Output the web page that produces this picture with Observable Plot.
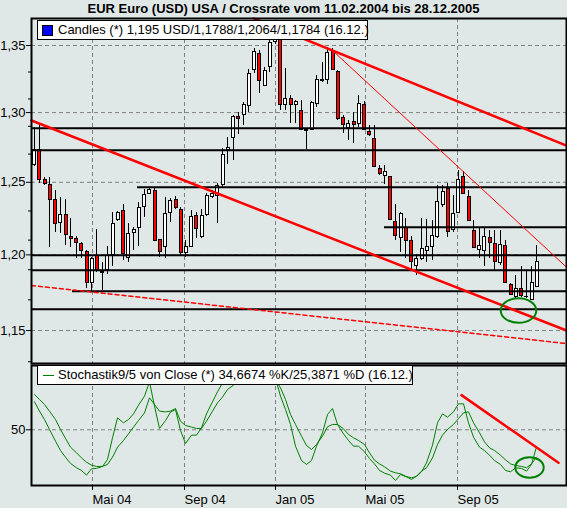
<!DOCTYPE html>
<html>
<head>
<meta charset="utf-8">
<script src="https://cdn.jsdelivr.net/npm/d3@7"></script>
<script src="https://cdn.jsdelivr.net/npm/@observablehq/plot@0.6"></script>
<style>
  html, body { margin: 0; padding: 0; background: #e0e8e7; }
  #chart { position: relative; width: 567px; height: 508px; overflow: hidden; background: #e0e8e7;
    font-family: "Liberation Sans", Arial, Helvetica, sans-serif; color: #000; }
  #title { position: absolute; left: 0; top: 1px; width: 567px; text-align: center; font-weight: bold;
    font-size: 13px; line-height: 15px; white-space: nowrap; }
  #main, #lower { position: absolute; left: 0; }
  #main { top: 0; }
  #lower { top: 364px; }
  .legend { position: absolute; box-sizing: border-box; background: #fff; border: 1px solid #000;
    font-size: 13px; line-height: 18px; white-space: nowrap; padding-left: 20px; }
  #legMain { left: 37px; top: 20px; width: 331px; height: 20px; }
  #legLow { left: 37px; top: 365px; width: 376px; height: 20px; }
  .swatch { position: absolute; left: 4px; top: 4px; width: 11px; height: 11px; box-sizing: border-box;
    background: #0000ff; border: 1px solid #000; }
  .lineSym { position: absolute; left: 5px; top: 9px; width: 11px; height: 1px; background: #008000; }
</style>
</head>
<body>
<div id="chart">
  <div id="main"></div>
  <div id="lower"></div>
  <div id="title"></div>
  <div id="legMain" class="legend"><span class="swatch"></span><span id="legMainText"></span></div>
  <div id="legLow" class="legend"><span class="lineSym"></span><span id="legLowText"></span></div>
</div>
<script>
// ---------- data ----------
const titleText = "EUR Euro (USD) USA / Crossrate vom 11.02.2004 bis 28.12.2005";
const firstWeek = "2004-02-13"; // weekly candles (Fridays)

const open = [1.2623, 1.2726, 1.2513, 1.2484, 1.2373, 1.2218, 1.2269, 1.2124, 1.2108, 1.2074,
 1.2018, 1.1811, 1.1992, 1.1881, 1.1899, 1.1998, 1.2239, 1.2303, 1.1982, 1.2151,
 1.2184, 1.2326, 1.2419, 1.2442, 1.2102, 1.2050, 1.2287, 1.2377, 1.2308, 1.2014,
 1.2056, 1.2264, 1.2119, 1.2269, 1.2395, 1.2407, 1.2482, 1.2726, 1.2817, 1.2966,
 1.2979, 1.3045, 1.3312, 1.3437, 1.3194, 1.3336, 1.3530, 1.3549, 1.3057, 1.3101,
 1.3059, 1.3015, 1.2865, 1.2874, 1.3064, 1.3230, 1.3239, 1.3462, 1.3303, 1.2962,
 1.2889, 1.2928, 1.2918, 1.3059, 1.2862, 1.2809, 1.2595, 1.2543, 1.2536, 1.2222,
 1.2114, 1.2184, 1.2092, 1.1928, 1.1973, 1.2023, 1.2052, 1.2124, 1.2342, 1.2454,
 1.2170, 1.2284, 1.2536, 1.2398, 1.2159, 1.2034, 1.2025, 1.2115, 1.2074, 1.1946,
 1.2063, 1.1801, 1.1717, 1.1773, 1.1717, 1.1699, 1.1788];
const high = [1.2891, 1.2917, 1.2536, 1.2532, 1.2442, 1.2396, 1.2380, 1.2248, 1.2124, 1.2085,
 1.2029, 1.1985, 1.2171, 1.1948, 1.2060, 1.2291, 1.2298, 1.2343, 1.2214, 1.2188,
 1.2361, 1.2449, 1.2454, 1.2454, 1.2104, 1.2393, 1.2384, 1.2400, 1.2324, 1.2097,
 1.2303, 1.2291, 1.2310, 1.2419, 1.2442, 1.2489, 1.2738, 1.2822, 1.2979, 1.3000,
 1.3071, 1.3319, 1.3477, 1.3462, 1.3336, 1.3546, 1.3667, 1.3561, 1.3324, 1.3126,
 1.3089, 1.3089, 1.2877, 1.3081, 1.3274, 1.3373, 1.3485, 1.3477, 1.3312, 1.2979,
 1.2942, 1.3003, 1.3126, 1.3083, 1.2906, 1.2906, 1.2619, 1.2619, 1.2541, 1.2348,
 1.2289, 1.2248, 1.2124, 1.2002, 1.2246, 1.2241, 1.2234, 1.2477, 1.2477, 1.2489,
 1.2407, 1.2583, 1.2578, 1.2442, 1.2234, 1.2188, 1.2188, 1.2165, 1.2165, 1.2165,
 1.2097, 1.1808, 1.1861, 1.1921, 1.1895, 1.1921, 1.2064];
const low = [1.2611, 1.2489, 1.2477, 1.2052, 1.2154, 1.2145, 1.2063, 1.2050, 1.1975, 1.1975,
 1.1775, 1.1755, 1.1881, 1.1761, 1.1868, 1.1923, 1.2227, 1.1962, 1.1950, 1.2029,
 1.2056, 1.2257, 1.2414, 1.2090, 1.1982, 1.1975, 1.2222, 1.2310, 1.1995, 1.1980,
 1.2047, 1.2113, 1.2108, 1.2262, 1.2386, 1.2216, 1.2456, 1.2623, 1.2654, 1.2841,
 1.2906, 1.3003, 1.3286, 1.3138, 1.3192, 1.3299, 1.3508, 1.3015, 1.3015, 1.2918,
 1.2920, 1.2870, 1.2731, 1.2870, 1.3037, 1.3222, 1.3207, 1.3312, 1.2942, 1.2846,
 1.2797, 1.2774, 1.2893, 1.2870, 1.2826, 1.2602, 1.2548, 1.2484, 1.2234, 1.2097,
 1.2018, 1.1973, 1.1895, 1.1861, 1.1962, 1.1950, 1.1962, 1.2108, 1.2326, 1.2119,
 1.2151, 1.2280, 1.2419, 1.2229, 1.2045, 1.1973, 1.1921, 1.1975, 1.1895, 1.1928,
 1.1806, 1.1728, 1.1706, 1.1717, 1.1706, 1.1696, 1.1784];
const close = [1.2726, 1.2513, 1.2489, 1.2377, 1.2211, 1.2269, 1.2136, 1.2108, 1.2081, 1.2029,
 1.1811, 1.1973, 1.1899, 1.1884, 1.1989, 1.2211, 1.2287, 1.2005, 1.2143, 1.2170,
 1.2322, 1.2412, 1.2447, 1.2095, 1.2018, 1.2282, 1.2370, 1.2324, 1.2014, 1.2056,
 1.2257, 1.2177, 1.2264, 1.2407, 1.2419, 1.2477, 1.2690, 1.2745, 1.2966, 1.2956,
 1.3052, 1.3287, 1.3452, 1.3232, 1.3309, 1.3520, 1.3549, 1.3055, 1.3101, 1.3052,
 1.3074, 1.2874, 1.2870, 1.3069, 1.3237, 1.3241, 1.3442, 1.3316, 1.2954, 1.2911,
 1.2918, 1.2911, 1.3064, 1.2874, 1.2838, 1.2611, 1.2555, 1.2576, 1.2239, 1.2126,
 1.2280, 1.2092, 1.1950, 1.1973, 1.2041, 1.2056, 1.2131, 1.2361, 1.2431, 1.2154,
 1.2282, 1.2513, 1.2419, 1.2234, 1.2047, 1.2063, 1.2124, 1.2079, 1.1950, 1.2070,
 1.1810, 1.1733, 1.1773, 1.1728, 1.1718, 1.1813, 1.195];

const stochK = [75.1, 66.7, 59.2, 50.3, 39.8, 31.4, 25.4, 19.8, 15.9, 13.5,
 9.3, 15.0, 15.3, 17.1, 23.3, 42.8, 60.7, 56.3, 59.2, 64.3,
 72.1, 80.2, 93, 71.2, 51.2, 58.3, 65.8, 68.2, 49.4, 37.7,
 45.2, 45.2, 51.8, 64.3, 75.1, 84.1, 92, 96, 98, 97,
 98, 99, 98, 93, 92, 97, 96, 80.2, 68.2, 54.8,
 35.3, 22.4, 18.9, 22.4, 35.3, 47.3, 63.7, 69.1, 54.8, 46.4,
 40.4, 35.3, 35.3, 30.2, 24.2, 19.4, 13.5, 11.1, 9.3, 4.5,
 9.9, 8.1, 6.9, 8.1, 12.3, 20.3, 36.2, 56.3, 64.3, 61.3,
 66.1, 73.3, 73.3, 56.3, 43.4, 34.4, 31.4, 27.2, 22.4, 18.9,
 13.5, 12.3, 15.9, 15.3, 12.9, 18.9, 34.6674];
const stochD = [81.7, 77.2, 72.7, 66.7, 59.2, 50.3, 42.2, 34.4, 29.3, 24.8,
 20.9, 18.3, 17.1, 17.1, 18.9, 25.4, 34.4, 40.4, 46.4, 52.4,
 58.3, 65.2, 78.7, 72.7, 66.7, 66.1, 66.7, 69.1, 57.7, 53.9,
 52.4, 51.2, 51.2, 57.7, 66.7, 74.2, 79.3, 86.2, 90, 93,
 95, 96, 97, 96, 94, 94, 95, 87.7, 77.2, 63.7,
 54.8, 44.3, 35.9, 32.3, 36.8, 44.3, 52.7, 54.8, 54.8, 50.9,
 45.8, 42.8, 40.4, 36.8, 29.3, 22.7, 19.4, 16.8, 12.9, 11.4,
 10.5, 8.4, 5.4, 8.4, 12.9, 15.9, 24.8, 36.8, 45.2, 50.3,
 54.8, 60.1, 65.2, 66.1, 56.3, 47.3, 39.2, 33.8, 31.4, 27.2,
 23.0, 19.4, 18.0, 17.1, 15.9, 19.4, 25.3871];

// support / resistance levels (price, start date; null = from left edge)
const levelPrices = [1.2886, 1.2728, 1.2466, 1.2188, 1.1998, 1.1897, 1.1757, 1.1639];
const levelStarts = [null, null, "2004-06-30", "2005-05-27", null, null, "2004-04-04", null];

// trend lines as (date, price) end points
const trendLower = [["2004-02-09T10:40Z", 1.2942], ["2006-01-24T17:30Z", 1.1500]];
const trendUpper = [["2004-12-02T06:00Z", 1.3707], ["2006-01-24T17:30Z", 1.2761]];
const trendThin  = [["2005-03-17T21:00Z", 1.3462], ["2006-01-24T17:30Z", 1.1917]];
const trendDash  = [["2004-02-09T10:40Z", 1.1795], ["2006-01-24T17:30Z", 1.1416]];
const stochTrend = [["2005-09-06T18:00Z", 81.1], ["2006-01-13T15:00Z", 20.4]];
const priceCircle = [["2005-11-21T07:00Z", 1.1630]];
const stochCircle = [["2005-12-06T22:00Z", 16.2]];

const priceTicks = [1.15, 1.20, 1.25, 1.30, 1.35];
const priceTickLabels = ["1,15", "1,20", "1,25", "1,30", "1,35"];
const minorPriceTicks = [1.13, 1.17, 1.19, 1.21, 1.23, 1.27, 1.29, 1.31, 1.33];
const stochTicks = [50];
const stochTickLabels = ["50"];
const monthTicks = ["2004-05-01", "2004-09-01", "2005-01-01", "2005-05-01", "2005-09-01"];
const monthLabels = ["Mai 04", "Sep 04", "Jan 05", "Mai 05", "Sep 05"];

// ---------- build ----------
const day = 24 * 3600 * 1000;
const t0 = new Date(firstWeek + "T00:00:00Z");
const weekDates = open.map((_, i) => d3.utcDay.offset(t0, 7 * i));
const candles = weekDates.map((date, i) => ({date, open: open[i], high: high[i], low: low[i], close: close[i]}));
const stoch = weekDates.map((date, i) => ({date, k: stochK[i], d: stochD[i]}));
const xDomain = [new Date("2004-02-09T10:40Z"), new Date("2006-01-24T17:30Z")];
const levels = levelPrices.map((p, i) => ({price: p, from: levelStarts[i] ? new Date(levelStarts[i] + "T00:00Z") : xDomain[0], to: xDomain[1]}));
const pts = arr => arr.map(([d, v]) => ({date: new Date(d), v}));
const months = monthTicks.map(s => new Date(s + "T00:00Z"));

const ellipse = (rx, ry) => ({
  draw(ctx) {
    const k = 0.5523;
    ctx.moveTo(rx, 0);
    ctx.bezierCurveTo(rx, k * ry, k * rx, ry, 0, ry);
    ctx.bezierCurveTo(-k * rx, ry, -rx, k * ry, -rx, 0);
    ctx.bezierCurveTo(-rx, -k * ry, -k * rx, -ry, 0, -ry);
    ctx.bezierCurveTo(k * rx, -ry, rx, -k * ry, rx, 0);
    ctx.closePath();
  }
});

const fmt = v => d3.format(".4~f")(v).replace(".", ",");
const n = candles.length - 1;
const lastDay = d3.utcFormat("%d.%m.")(weekDates[n]);
document.getElementById("title").textContent = titleText;
document.getElementById("legMainText").textContent =
  `Candles (*) ${fmt(close[n])} USD/${fmt(open[n])}/${fmt(high[n])}/${fmt(low[n])} (${lastDay})`;
document.getElementById("legLowText").textContent =
  `Stochastik9/5 von Close (*) ${fmt(stochK[n])} %K/${fmt(stochD[n])} %D (${lastDay})`;

const font = '"Liberation Sans", Arial, Helvetica, sans-serif';
const grid = {stroke: "#808080", strokeDasharray: "4,3", strokeWidth: 1};

const mainPlot = Plot.plot({
  width: 567, height: 364,
  marginLeft: 31, marginRight: 1, marginTop: 18, marginBottom: 1,
  style: {background: "transparent", fontFamily: font, fontSize: "13px", color: "#000", overflow: "visible"},
  x: {type: "utc", domain: xDomain, round: true, axis: null, label: null},
  y: {type: "log", domain: [1.12886, 1.37066], label: null},
  marks: [
    Plot.ruleY(priceTicks, grid),
    Plot.ruleX(months, grid),
    Plot.ruleX(candles, {x: "date", y1: "low", y2: "high", stroke: "#000", strokeWidth: 1, shapeRendering: "crispEdges"}),
    Plot.rect(candles, {
      x1: d => new Date(+d.date - 2 * day), x2: d => new Date(+d.date + 2 * day),
      y1: "open", y2: "close",
      fill: d => d.close >= d.open ? "#ffffff" : "#ff0000", stroke: "#000", strokeWidth: 1,
      shapeRendering: "crispEdges"
    }),
    Plot.ruleY(levels, {y: "price", x1: "from", x2: "to", stroke: "#000", strokeWidth: 2}),
    Plot.line(pts(trendDash), {x: "date", y: "v", stroke: "#ff0000", strokeWidth: 1.5, strokeDasharray: "4,3"}),
    Plot.line(pts(trendThin), {x: "date", y: "v", stroke: "#ff0000", strokeWidth: 1}),
    Plot.line(pts(trendLower), {x: "date", y: "v", stroke: "#ff0000", strokeWidth: 2.5}),
    Plot.line(pts(trendUpper), {x: "date", y: "v", stroke: "#ff0000", strokeWidth: 2.5}),
    Plot.dot(pts(priceCircle), {x: "date", y: "v", symbol: ellipse(17.8, 12.3), r: 12, fill: "none", stroke: "#008000", strokeWidth: 2}),
    Plot.axisY({ticks: minorPriceTicks, tickSize: 3, tickFormat: () => "", label: null}),
    Plot.axisY({ticks: priceTicks, tickSize: 5, tickPadding: 1, tickFormat: d => priceTickLabels[priceTicks.indexOf(d)], label: null, fontSize: 13}),
    Plot.frame({stroke: "#000", strokeWidth: 2})
  ]
});
document.getElementById("main").appendChild(mainPlot);

const lowerPlot = Plot.plot({
  width: 567, height: 144,
  marginLeft: 31, marginRight: 1, marginTop: 1, marginBottom: 23,
  style: {background: "transparent", fontFamily: font, fontSize: "13px", color: "#000", overflow: "visible"},
  x: {type: "utc", domain: xDomain, round: true, label: null},
  y: {domain: [0, 107.7], label: null},
  marks: [
    Plot.ruleY(stochTicks, grid),
    Plot.ruleX(months, grid),
    Plot.line(stoch, {x: "date", y: "d", stroke: "#008000", strokeWidth: 1}),
    Plot.line(stoch, {x: "date", y: "k", stroke: "#008000", strokeWidth: 1}),
    Plot.line(pts(stochTrend), {x: "date", y: "v", stroke: "#ff0000", strokeWidth: 2.5}),
    Plot.dot(pts(stochCircle), {x: "date", y: "v", symbol: ellipse(14.2, 10.3), r: 10, fill: "none", stroke: "#008000", strokeWidth: 2}),
    Plot.axisY({ticks: stochTicks, tickSize: 5, tickPadding: 1, tickFormat: d => stochTickLabels[stochTicks.indexOf(d)], label: null, fontSize: 13}),
    Plot.axisX({ticks: months, tickSize: 5, tickPadding: 4, textAnchor: "start", dx: 0,
      tickFormat: d => monthLabels[months.findIndex(m => +m === +d)], label: null, fontSize: 13}),
    Plot.frame({stroke: "#000", strokeWidth: 2})
  ]
});
document.getElementById("lower").appendChild(lowerPlot);
</script>
</body>
</html>
